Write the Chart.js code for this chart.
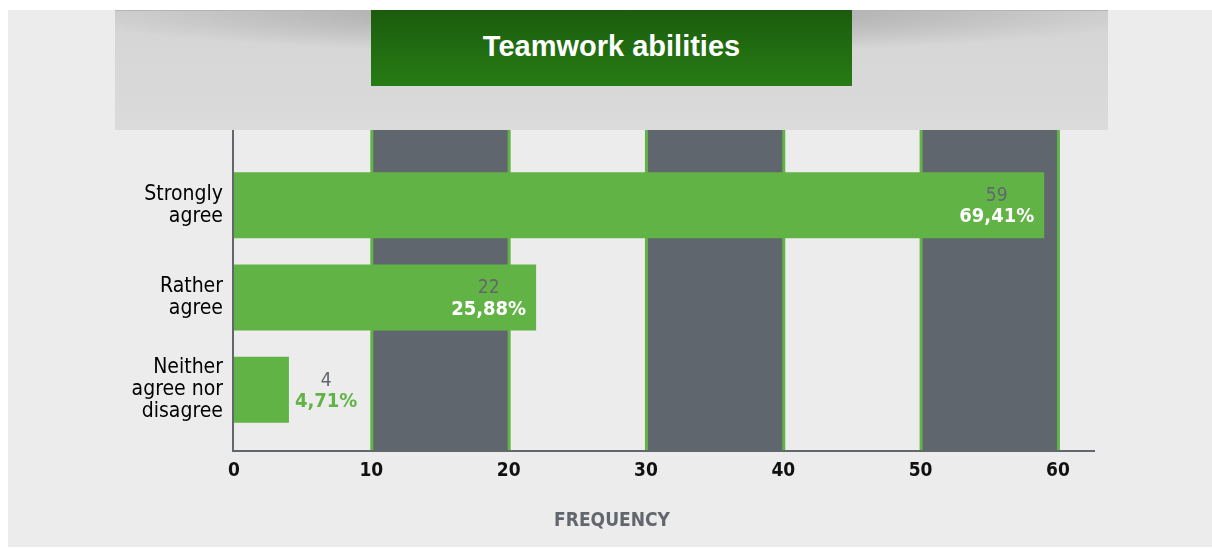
<!DOCTYPE html>
<html lang="en">
<head>
    <meta charset="UTF-8">
    <title>Teamwork abilities</title>
    <script src="https://cdn.jsdelivr.net/npm/chart.js"></script>
    <style>
        html, body {
            margin: 0;
            padding: 0;
            background: #ffffff;
        }

        .pagina {
            position: relative;
            width: 1212px;
            height: 549px;
            overflow: hidden;
        }

        .fundo {
            position: absolute;
            left: 8px;
            top: 10px;
            width: 1204px;
            height: 537px;
            background: #ececec;
        }

        .cabecalho {
            position: absolute;
            left: 115px;
            top: 10px;
            width: 993px;
            height: 120px;
            z-index: 2;
            border-top: 1px solid #b4b4b4;
            box-sizing: border-box;
            background:
                radial-gradient(ellipse 560px 42px at 50% 0%, rgba(160,160,160,1) 0%, rgba(175,175,175,0.8) 45%, rgba(218,218,218,0) 100%),
                linear-gradient(to bottom, #d4d4d4, #dbdbdb);
        }

        .titulo {
            position: absolute;
            left: 256px;
            top: -1px;
            width: 481px;
            height: 76px;
            background: linear-gradient(to bottom, #1b5c0d, #267c14);
            color: #ffffff;
            font-family: "Liberation Sans", Arial, sans-serif;
            font-weight: bold;
            font-size: 29px;
            line-height: 72px;
            text-align: center;
        }

        canvas {
            position: absolute;
            left: 0;
            top: 0;
            z-index: 1;
        }
    </style>
</head>
<body>

    <div class="pagina">
        <div class="fundo"></div>
        <div class="cabecalho">
            <div class="titulo">Teamwork abilities</div>
        </div>
        <canvas id="grafico" width="1212" height="549"></canvas>
    </div>

    <script>
        const categorias = [["Strongly", "agree"], ["Rather", "agree"], ["Neither", "agree nor", "disagree"]];
        const frequencias = [59, 22, 4];
        const percentuais = ["69,41%", "25,88%", "4,71%"];
        const faixasEscuras = [[10, 20], [30, 40], [50, 60]];
        const linhasVerdes = [10, 20, 30, 40, 50, 60];
        const ticksX = [0, 10, 20, 30, 40, 50, 60];
        const tituloEixo = "FREQUENCY";

        const VERDE = "#62b346";
        const CINZA = "#5f666e";
        const FONTE = '"DejaVu Sans Condensed", "DejaVu Sans", sans-serif';

        const fundoPlugin = {
            id: "fundo",
            beforeDatasetsDraw(chart) {
                const { ctx, chartArea, scales } = chart;
                const topo = 130, base = 451;
                ctx.save();
                ctx.fillStyle = CINZA;
                faixasEscuras.forEach(([a, b]) => {
                    const x1 = scales.x.getPixelForValue(a);
                    const x2 = scales.x.getPixelForValue(b);
                    ctx.fillRect(x1, topo, x2 - x1, base - topo);
                });
                ctx.fillStyle = VERDE;
                linhasVerdes.forEach(v => {
                    const x = scales.x.getPixelForValue(v);
                    ctx.fillRect(x - 1, topo, 3, base - topo);
                });
                // eixos
                ctx.fillStyle = "#62676d";
                ctx.fillRect(chartArea.left - 2, topo, 2, base - topo + 1);
                ctx.fillRect(chartArea.left - 2, base - 1, chartArea.right - chartArea.left + 2, 2);
                ctx.restore();
            }
        };

        const rotulosPlugin = {
            id: "rotulos",
            afterDatasetsDraw(chart) {
                const { ctx } = chart;
                const meta = chart.getDatasetMeta(0);
                ctx.save();
                ctx.textAlign = "center";
                ctx.textBaseline = "middle";
                meta.data.forEach((barra, i) => {
                    ctx.font = "bold 20px " + FONTE;
                    const w = ctx.measureText(percentuais[i]).width;
                    const dentro = barra.x - barra.base > w + 30;
                    const cx = dentro ? barra.x - 10 - w / 2 : barra.x + 6 + w / 2;
                    ctx.fillStyle = dentro ? "#ffffff" : VERDE;
                    ctx.fillText(percentuais[i], cx, barra.y + 12);
                    ctx.font = "19px " + FONTE;
                    ctx.fillStyle = "#62676d";
                    ctx.fillText(String(frequencias[i]), cx, barra.y - 9);
                });
                // título do eixo x, centrado na página
                ctx.font = "bold 19px " + FONTE;
                ctx.fillStyle = "#62676d";
                ctx.fillText(tituloEixo, chart.width / 2 + 6, 521);
                ctx.restore();
            }
        };

        new Chart(document.getElementById("grafico").getContext("2d"), {
            type: "bar",
            data: {
                labels: categorias,
                datasets: [{
                    data: frequencias,
                    backgroundColor: VERDE,
                    barPercentage: 0.714,
                    categoryPercentage: 1
                }]
            },
            options: {
                indexAxis: "y",
                responsive: false,
                animation: false,
                layout: { padding: { top: 159, right: 117, left: 0, bottom: 0 } },
                plugins: {
                    legend: { display: false },
                    tooltip: { enabled: false }
                },
                scales: {
                    x: {
                        min: 0,
                        max: 62.7,
                        afterFit: s => { s.height = 113; },
                        afterBuildTicks: s => { s.ticks = ticksX.map(v => ({ value: v })); },
                        grid: { display: false, drawTicks: false },
                        border: { display: false },
                        ticks: {
                            color: "#111111",
                            padding: 24,
                            font: { family: FONTE, size: 19, weight: "bold" }
                        }
                    },
                    y: {
                        afterFit: s => { s.width = 234; },
                        grid: { display: false, drawTicks: false },
                        border: { display: false },
                        ticks: {
                            color: "#000000",
                            padding: 11,
                            font: { family: FONTE, size: 21, lineHeight: 1.05 }
                        }
                    }
                }
            },
            plugins: [fundoPlugin, rotulosPlugin]
        });
    </script>

</body>
</html>
